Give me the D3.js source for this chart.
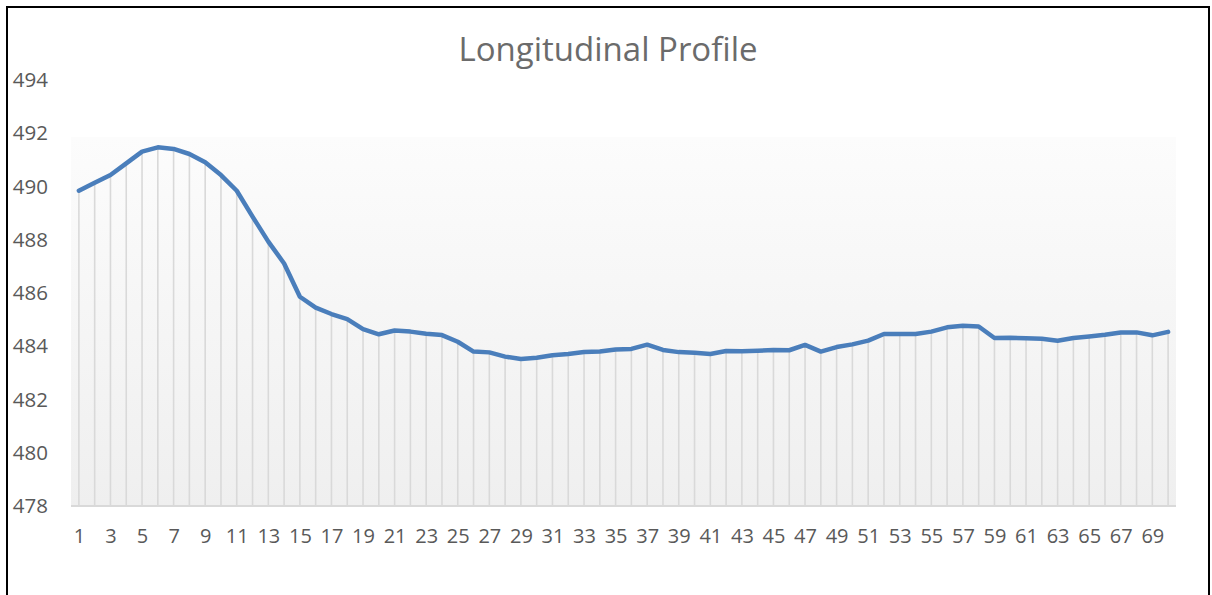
<!DOCTYPE html>
<html>
  <head>
    <meta charset="utf-8">
    <title>Longitudinal Profile</title>
    <style>
      html, body {
        margin: 0;
        padding: 0;
        background: #fff;
      }
      svg text {
        font-family: "Open Sans", "Liberation Sans", sans-serif;
        fill: #595959;
      }
    </style>
  </head>
  <body>
    <div id="chart"></div>
    <script src="https://cdn.jsdelivr.net/npm/d3@7"></script>
    <script>
    // station numbers along the profile
    var stations = d3.range(1, 71);
    // elevation at each station
    var elevations = [
      489.84, 490.14, 490.43, 490.87, 491.31, 491.47, 491.41, 491.22, 490.91, 490.43,
      489.84, 488.87, 487.93, 487.11, 485.86, 485.45, 485.21, 485.02, 484.64, 484.45,
      484.59, 484.55, 484.47, 484.42, 484.17, 483.80, 483.77, 483.61, 483.52, 483.57,
      483.66, 483.71, 483.78, 483.80, 483.88, 483.90, 484.06, 483.86, 483.78, 483.76,
      483.71, 483.82, 483.81, 483.83, 483.86, 483.85, 484.05, 483.80, 483.97, 484.07,
      484.21, 484.46, 484.46, 484.46, 484.55, 484.71, 484.77, 484.74, 484.31, 484.32,
      484.30, 484.28, 484.21, 484.31, 484.37, 484.43, 484.52, 484.52, 484.41, 484.54
    ];
    var yTicks = [478, 480, 482, 484, 486, 488, 490, 492, 494];
    var xTickLabels = stations.filter(function(d) { return d % 2 === 1; });

    var width = 1212, height = 595;
    var plot = {left: 71, right: 1176, top: 80, bottom: 506};

    var svg = d3.select("#chart").append("svg")
        .attr("width", width)
        .attr("height", height);

    var x = d3.scalePoint()
        .domain(stations)
        .range([plot.left, plot.right])
        .padding(0.5);

    var y = d3.scaleLinear()
        .domain([478, 494])
        .range([plot.bottom, plot.top]);

    // plot area gradient, white on top fading to light gray
    var grad = svg.append("defs").append("linearGradient")
        .attr("id", "bg")
        .attr("x1", 0).attr("y1", 0)
        .attr("x2", 0).attr("y2", 1);
    grad.append("stop").attr("offset", "0").attr("stop-color", "#ffffff");
    grad.append("stop").attr("offset", "0.133").attr("stop-color", "#ffffff");
    grad.append("stop").attr("offset", "0.134").attr("stop-color", "#fcfcfc");
    grad.append("stop").attr("offset", "1").attr("stop-color", "#efefef");

    svg.append("rect")
        .attr("x", plot.left)
        .attr("y", y(494))
        .attr("width", plot.right - plot.left)
        .attr("height", y(478) - y(494))
        .style("fill", "url(#bg)");

    // chart frame (bottom edge falls outside the picture)
    svg.append("rect")
        .attr("x", 7)
        .attr("y", 7)
        .attr("width", 1202)
        .attr("height", 620)
        .style("fill", "none")
        .style("stroke", "#000")
        .style("stroke-width", 2);

    // drop lines
    svg.append("g")
        .selectAll("line")
        .data(elevations)
        .join("line")
        .attr("x1", function(d, i) { return x(stations[i]); })
        .attr("x2", function(d, i) { return x(stations[i]); })
        .attr("y1", function(d) { return y(d); })
        .attr("y2", y(478))
        .style("stroke", "#d9d9d9")
        .style("stroke-width", 1.6);

    // category axis line
    svg.append("line")
        .attr("x1", plot.left)
        .attr("x2", plot.right)
        .attr("y1", y(478))
        .attr("y2", y(478))
        .style("stroke", "#d9d9d9")
        .style("stroke-width", 2);

    // y axis labels
    var yAxis = d3.axisLeft(y)
        .tickValues(yTicks)
        .tickSize(0)
        .tickPadding(0)
        .tickFormat(d3.format("d"));
    svg.append("g")
        .attr("transform", "translate(48,0)")
        .call(yAxis)
        .call(function(g) { g.select(".domain").remove(); })
        .selectAll("text")
        .style("font-size", "20.5px")
        .attr("fill", "#595959");

    // x axis labels
    var xAxis = d3.axisBottom(x)
        .tickValues(xTickLabels)
        .tickSize(0)
        .tickPadding(0);
    svg.append("g")
        .attr("transform", "translate(0," + (y(478) + 23) + ")")
        .call(xAxis)
        .call(function(g) { g.select(".domain").remove(); })
        .selectAll("text")
        .style("font-size", "20px")
        .attr("fill", "#595959");

    svg.selectAll(".tick text").attr("font-family", null).attr("font-size", null);

    // the profile line
    var line = d3.line()
        .x(function(d, i) { return x(stations[i]); })
        .y(function(d) { return y(d); });

    svg.append("path")
        .datum(elevations)
        .attr("d", line)
        .style("fill", "none")
        .style("stroke", "#4a7ebb")
        .style("stroke-width", 4.5)
        .style("stroke-linejoin", "round")
        .style("stroke-linecap", "round");

    svg.append("text")
        .attr("x", 608)
        .attr("y", 61)
        .attr("text-anchor", "middle")
        .style("font-size", "33px")
        .style("fill", "#6b6b6b")
        .text("Longitudinal Profile");
    </script>
  </body>
</html>
